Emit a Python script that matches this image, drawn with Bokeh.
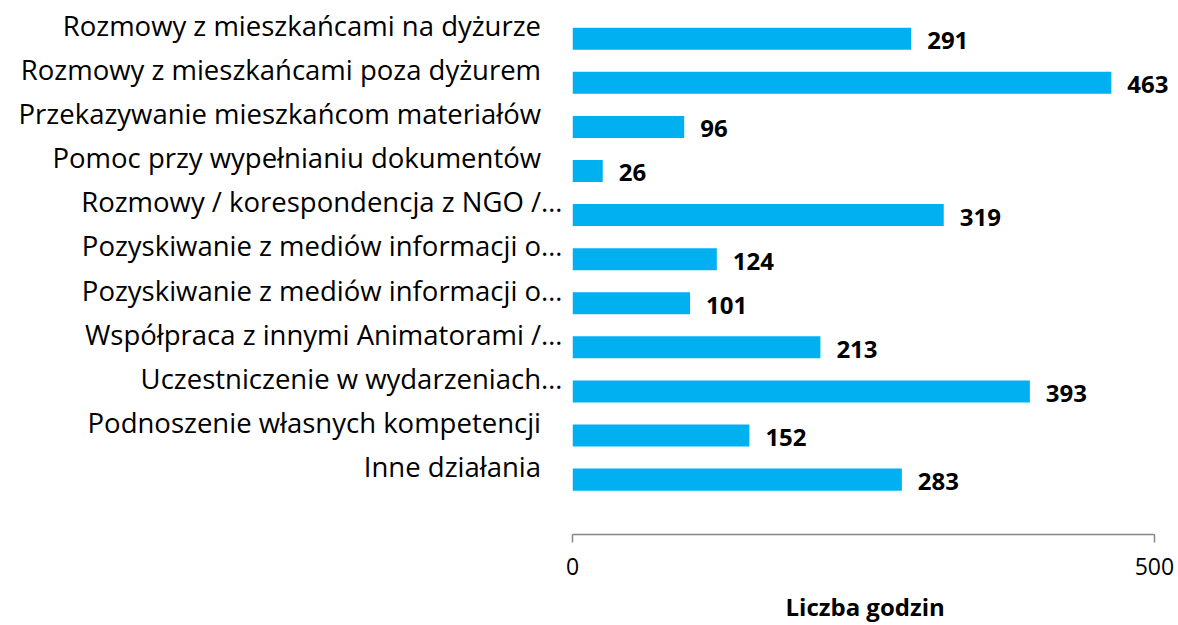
from bokeh.plotting import figure
from bokeh.models import ColumnDataSource, LabelSet, Range1d, FixedTicker
from bokeh.transform import dodge
from bokeh.core.properties import value
from bokeh.embed import file_html
from bokeh.resources import INLINE

categories = [
    "Rozmowy z mieszkańcami na dyżurze",
    "Rozmowy z mieszkańcami poza dyżurem",
    "Przekazywanie mieszkańcom materiałów",
    "Pomoc przy wypełnianiu dokumentów",
    "Rozmowy / korespondencja z NGO /…",
    "Pozyskiwanie z mediów informacji o…",
    "Pozyskiwanie z mediów informacji o…",
    "Współpraca z innymi Animatorami /…",
    "Uczestniczenie w wydarzeniach…",
    "Podnoszenie własnych kompetencji",
    "Inne działania",
]
hours = [291, 463, 96, 26, 319, 124, 101, 213, 393, 152, 283]
x_ticks = [0, 500]
axis_title = "Liczba godzin"

FONT = "Open Sans"
BAR_COLOR = "#00B0F0"
AXIS_COLOR = "#868686"

idx = list(range(len(categories)))
src = ColumnDataSource(dict(y=idx, hours=hours, txt=[str(h) for h in hours]))

p = figure(width=1176, height=625, output_backend="svg", toolbar_location=None,
           x_range=Range1d(0, 519), y_range=Range1d(11.545, -0.567),
           min_border_left=572, min_border_right=0, min_border_top=0,
           min_border_bottom=90)

bar_y = dodge("y", 0.3, range=p.y_range)
p.hbar(y=bar_y, left=0, right="hours", height=0.5, source=src,
       fill_color=BAR_COLOR, line_color=None)

p.add_layout(LabelSet(x="hours", y=bar_y, text="txt", source=src,
                      x_offset=16, y_offset=-2,
                      text_font=value(FONT), text_font_style="bold",
                      text_font_size="24px", text_color="black",
                      text_align="left", text_baseline="middle"))

# category axis (left)
ya = p.yaxis[0]
ya.ticker = FixedTicker(ticks=idx)
ya.major_label_overrides = {
    i: (c if c.endswith("…") else c + "\u00a0" * 3) for i, c in zip(idx, categories)
}
ya.axis_line_color = None
ya.major_tick_line_color = None
ya.minor_tick_line_color = None
ya.major_tick_in = 0
ya.major_tick_out = 0
ya.major_label_standoff = 10
ya.major_label_text_font = FONT
ya.major_label_text_font_size = "27.5px"
ya.major_label_text_color = "black"

p.xgrid.visible = False
p.ygrid.visible = False
p.outline_line_color = None

ax = p.xaxis[0]
ax.ticker = FixedTicker(ticks=x_ticks)
ax.bounds = (0, 500)
ax.axis_line_color = AXIS_COLOR
ax.axis_line_width = 1.5
ax.major_tick_line_color = AXIS_COLOR
ax.major_tick_line_width = 1.5
ax.major_tick_in = 0
ax.major_tick_out = 8
ax.minor_tick_line_color = None
ax.major_label_text_font = FONT
ax.major_label_text_font_size = "23px"
ax.major_label_text_color = "black"
ax.major_label_standoff = 15
ax.axis_label = axis_title + "\u00a0" * 3
ax.axis_label_text_font = FONT
ax.axis_label_text_font_style = "bold"
ax.axis_label_text_font_size = "24px"
ax.axis_label_text_color = "black"
ax.axis_label_standoff = 12

open("out.html", "w").write(file_html(p, INLINE))
